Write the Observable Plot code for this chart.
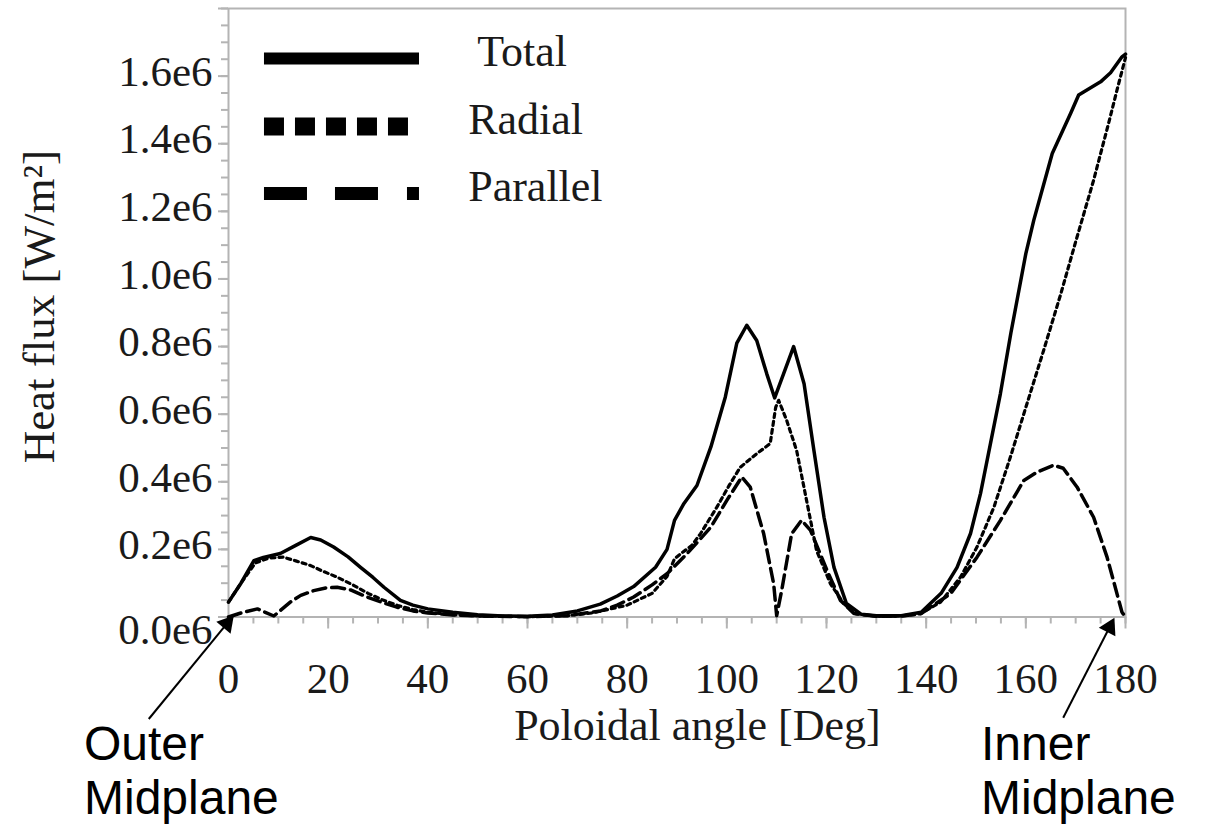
<!DOCTYPE html>
<html>
<head>
<meta charset="utf-8">
<script src="https://cdn.jsdelivr.net/npm/d3@7"></script>
<script src="https://cdn.jsdelivr.net/npm/@observablehq/plot@0.6"></script>
<style>
  html, body { margin: 0; padding: 0; background: #fff; }
  #chart svg { display: block; }
</style>
</head>
<body>
<div id="chart"></div>
<script>
// ---- Data (heat flux in units of 1e6 W/m^2, angle in degrees) ----
const totalAngle = [0, 2.5, 5.1, 7, 10.4, 13.5, 16.5, 18.5, 21.1, 24, 26.5, 29, 31.2, 34.5, 37, 40, 45, 50, 55, 60, 65, 70, 74.6, 78, 81.3, 85.7, 88, 89.5, 91.4, 94, 96.8, 99.7, 102, 104, 106, 108, 109.6, 111.4, 113.4, 115.5, 117.5, 119.5, 121.5, 124, 127, 130, 135, 139, 143, 146.2, 148.9, 150.9, 152.9, 154.9, 157, 160, 161.6, 165.3, 169, 170.6, 175, 177, 179.3, 180];
const totalFlux = [0.044, 0.1, 0.167, 0.176, 0.188, 0.212, 0.235, 0.228, 0.207, 0.178, 0.147, 0.117, 0.088, 0.049, 0.035, 0.024, 0.014, 0.007, 0.003, 0.002, 0.006, 0.018, 0.038, 0.062, 0.09, 0.147, 0.2, 0.286, 0.336, 0.389, 0.503, 0.651, 0.81, 0.863, 0.818, 0.72, 0.648, 0.72, 0.8, 0.69, 0.49, 0.295, 0.147, 0.04, 0.008, 0.004, 0.004, 0.014, 0.07, 0.147, 0.247, 0.365, 0.513, 0.661, 0.84, 1.075, 1.174, 1.371, 1.49, 1.544, 1.583, 1.61, 1.657, 1.665];

const radialAngle = [0, 2.5, 5.4, 8, 11, 13.5, 16.5, 19, 21.8, 25.2, 28, 31, 34, 37, 40, 45, 50, 60, 68, 73, 80, 85, 88, 89.5, 91, 93, 94.7, 98, 100.5, 102.7, 106, 108.7, 109.8, 110.4, 112, 114, 116, 118, 120.8, 123.5, 126, 130, 135, 138.9, 142.9, 146.9, 150.2, 153.6, 156.9, 160, 163.6, 167, 170, 173.6, 176.6, 178.3, 180];
const radialFlux = [0.044, 0.1, 0.16, 0.174, 0.177, 0.166, 0.152, 0.135, 0.118, 0.093, 0.07, 0.05, 0.034, 0.022, 0.014, 0.007, 0.003, 0.001, 0.004, 0.012, 0.035, 0.07, 0.12, 0.172, 0.19, 0.212, 0.246, 0.325, 0.39, 0.443, 0.483, 0.513, 0.62, 0.641, 0.582, 0.493, 0.345, 0.197, 0.098, 0.039, 0.009, 0.002, 0.003, 0.01, 0.044, 0.118, 0.207, 0.325, 0.473, 0.62, 0.79, 0.955, 1.11, 1.292, 1.46, 1.559, 1.655];

const parallelAngle = [0, 2.5, 5.8, 9.1, 12.4, 14.5, 17.1, 19.5, 21.8, 24.5, 27.8, 30.5, 33.8, 37, 40, 45, 50, 60, 68, 74.7, 78, 81.3, 85, 88, 92, 96.8, 100, 103, 104.7, 107.4, 109.4, 110, 111, 113, 115, 116.8, 120.1, 122.8, 125.5, 130, 135, 139, 144.9, 150.2, 154.9, 159.6, 162.3, 165.6, 167.5, 170.3, 173.6, 176.3, 179.3, 180];
const parallelFlux = [0, 0.012, 0.024, 0.003, 0.044, 0.064, 0.078, 0.086, 0.088, 0.08, 0.059, 0.045, 0.029, 0.018, 0.012, 0.006, 0.003, 0.001, 0.004, 0.018, 0.035, 0.059, 0.095, 0.128, 0.187, 0.266, 0.345, 0.414, 0.384, 0.246, 0.098, 0.004, 0.078, 0.246, 0.286, 0.256, 0.138, 0.049, 0.01, 0.002, 0.003, 0.01, 0.069, 0.177, 0.286, 0.404, 0.429, 0.449, 0.44, 0.384, 0.295, 0.177, 0.014, 0];

const seriesNames = ["Total", "Radial", "Parallel"];
const xTickValues = [0, 20, 40, 60, 80, 100, 120, 140, 160, 180];
const yTickLabelValues = [0.2, 0.4, 0.6, 0.8, 1.0, 1.2, 1.4, 1.6];
const xLabel = "Poloidal angle [Deg]";
const yLabel = "Heat flux [W/m²]";
const annotations = ["Outer\nMidplane", "Inner\nMidplane"];

// ---- Build tables ----
const rows = (ang, flux) => ang.map((a, i) => ({angle: a, flux: flux[i]}));
const totalData = rows(totalAngle, totalFlux);
const radialData = rows(radialAngle, radialFlux);
const parallelData = rows(parallelAngle, parallelFlux);

const xMinor = d3.range(0, 37).map(i => i * 5);
const yMajor = d3.range(0, 10).map(i => +(i * 0.2).toFixed(1));
const yMinor = d3.range(0, 37).map(i => +(i * 0.05).toFixed(2));
const fmt = d => d.toFixed(1) + "e6";

const grey = "#b4b4b4";
const ink = "#1a1a1a";
const serif = "'Liberation Serif', 'Times New Roman', serif";
const sans = "'Liberation Sans', Arial, sans-serif";

const chart = Plot.plot({
  width: 1205,
  height: 828,
  marginLeft: 228,
  marginRight: 80,
  marginTop: 8,
  marginBottom: 211.5,
  style: {fontFamily: serif, background: "#fff", overflow: "visible"},
  x: {domain: [0, 180]},
  y: {domain: [0, 1.8]},
  marks: [
    Plot.frame({stroke: grey, strokeWidth: 2}),
    // minor ticks
    Plot.axisX({ticks: xMinor, tickSize: 7, tickFormat: () => "", stroke: grey, strokeWidth: 2, label: null}),
    Plot.axisY({ticks: yMinor, tickSize: 7, tickFormat: () => "", stroke: grey, strokeWidth: 2, label: null}),
    // major ticks
    Plot.axisX({ticks: xTickValues, tickSize: 12, tickPadding: 33, stroke: grey, strokeWidth: 2, fill: ink, fontSize: 43, label: null}),
    Plot.axisY({ticks: yMajor, tickSize: 10, tickFormat: () => "", stroke: grey, strokeWidth: 2, label: null}),
    Plot.axisY({ticks: yTickLabelValues, tickSize: 0, tickPadding: 16, tickFormat: fmt, fill: ink, fontSize: 43, dy: -4, label: null}),
    Plot.axisY({ticks: [0], tickSize: 0, tickPadding: 16, tickFormat: fmt, fill: ink, fontSize: 43, dy: 13, label: null}),
    // data lines
    Plot.line(parallelData, {x: "angle", y: "flux", stroke: "#000", strokeWidth: 3.5, strokeDasharray: "13,6"}),
    Plot.line(radialData, {x: "angle", y: "flux", stroke: "#000", strokeWidth: 3.2, strokeDasharray: "4,4"}),
    Plot.line(totalData, {x: "angle", y: "flux", stroke: "#000", strokeWidth: 3.5}),
    // legend
    Plot.ruleY([1.652], {x1: 7.22, x2: 38.33, stroke: "#000", strokeWidth: 12}),
    Plot.ruleY([1.451], {x1: 7.22, x2: 36.12, stroke: "#000", strokeWidth: 18, strokeDasharray: "20,11"}),
    Plot.ruleY([1.253], {x1: 7.22, x2: 38.33, stroke: "#000", strokeWidth: 13, strokeDasharray: "43,28,43,29,12,200"}),
    Plot.text([seriesNames[0]], {x: 49.9, y: 1.631, text: d => d, textAnchor: "start", lineAnchor: "bottom", fontSize: 44, fill: ink}),
    Plot.text([seriesNames[1]], {x: 48.1, y: 1.430, text: d => d, textAnchor: "start", lineAnchor: "bottom", fontSize: 44, fill: ink}),
    Plot.text([seriesNames[2]], {x: 48.1, y: 1.232, text: d => d, textAnchor: "start", lineAnchor: "bottom", fontSize: 44, fill: ink}),
    // axis labels
    Plot.text([xLabel], {x: 94.1, y: -0.3653, text: d => d, textAnchor: "middle", lineAnchor: "bottom", fontSize: 44, fill: ink}),
    Plot.text([yLabel], {x: -35.1, y: 0.918, text: d => d, textAnchor: "middle", lineAnchor: "bottom", rotate: -90, fontSize: 45, fill: ink}),
    // annotations
    Plot.link([0], {x1: -16.0, y1: -0.3017, x2: -0.32, y2: -0.0198, stroke: "#000", strokeWidth: 2}),
    Plot.link([0], {x1: 167.5, y1: -0.2982, x2: 176.8, y2: -0.0305, stroke: "#000", strokeWidth: 2}),
    Plot.dot([0], {x: -0.32, y: -0.0198, symbol: "triangle", r: 6.9, fill: "#000", stroke: "none", rotate: 40}),
    Plot.dot([0], {x: 176.8, y: -0.0305, symbol: "triangle", r: 6.9, fill: "#000", stroke: "none", rotate: 27}),
    Plot.text([annotations[0]], {x: -29.0, y: -0.5821, text: d => d, textAnchor: "start", lineAnchor: "bottom", lineHeight: 1.125, fontSize: 48, fontFamily: sans, fill: "#000"}),
    Plot.text([annotations[1]], {x: 151.0, y: -0.5821, text: d => d, textAnchor: "start", lineAnchor: "bottom", lineHeight: 1.125, fontSize: 48, fontFamily: sans, fill: "#000"})
  ]
});
document.getElementById("chart").appendChild(chart);
</script>
</body>
</html>
